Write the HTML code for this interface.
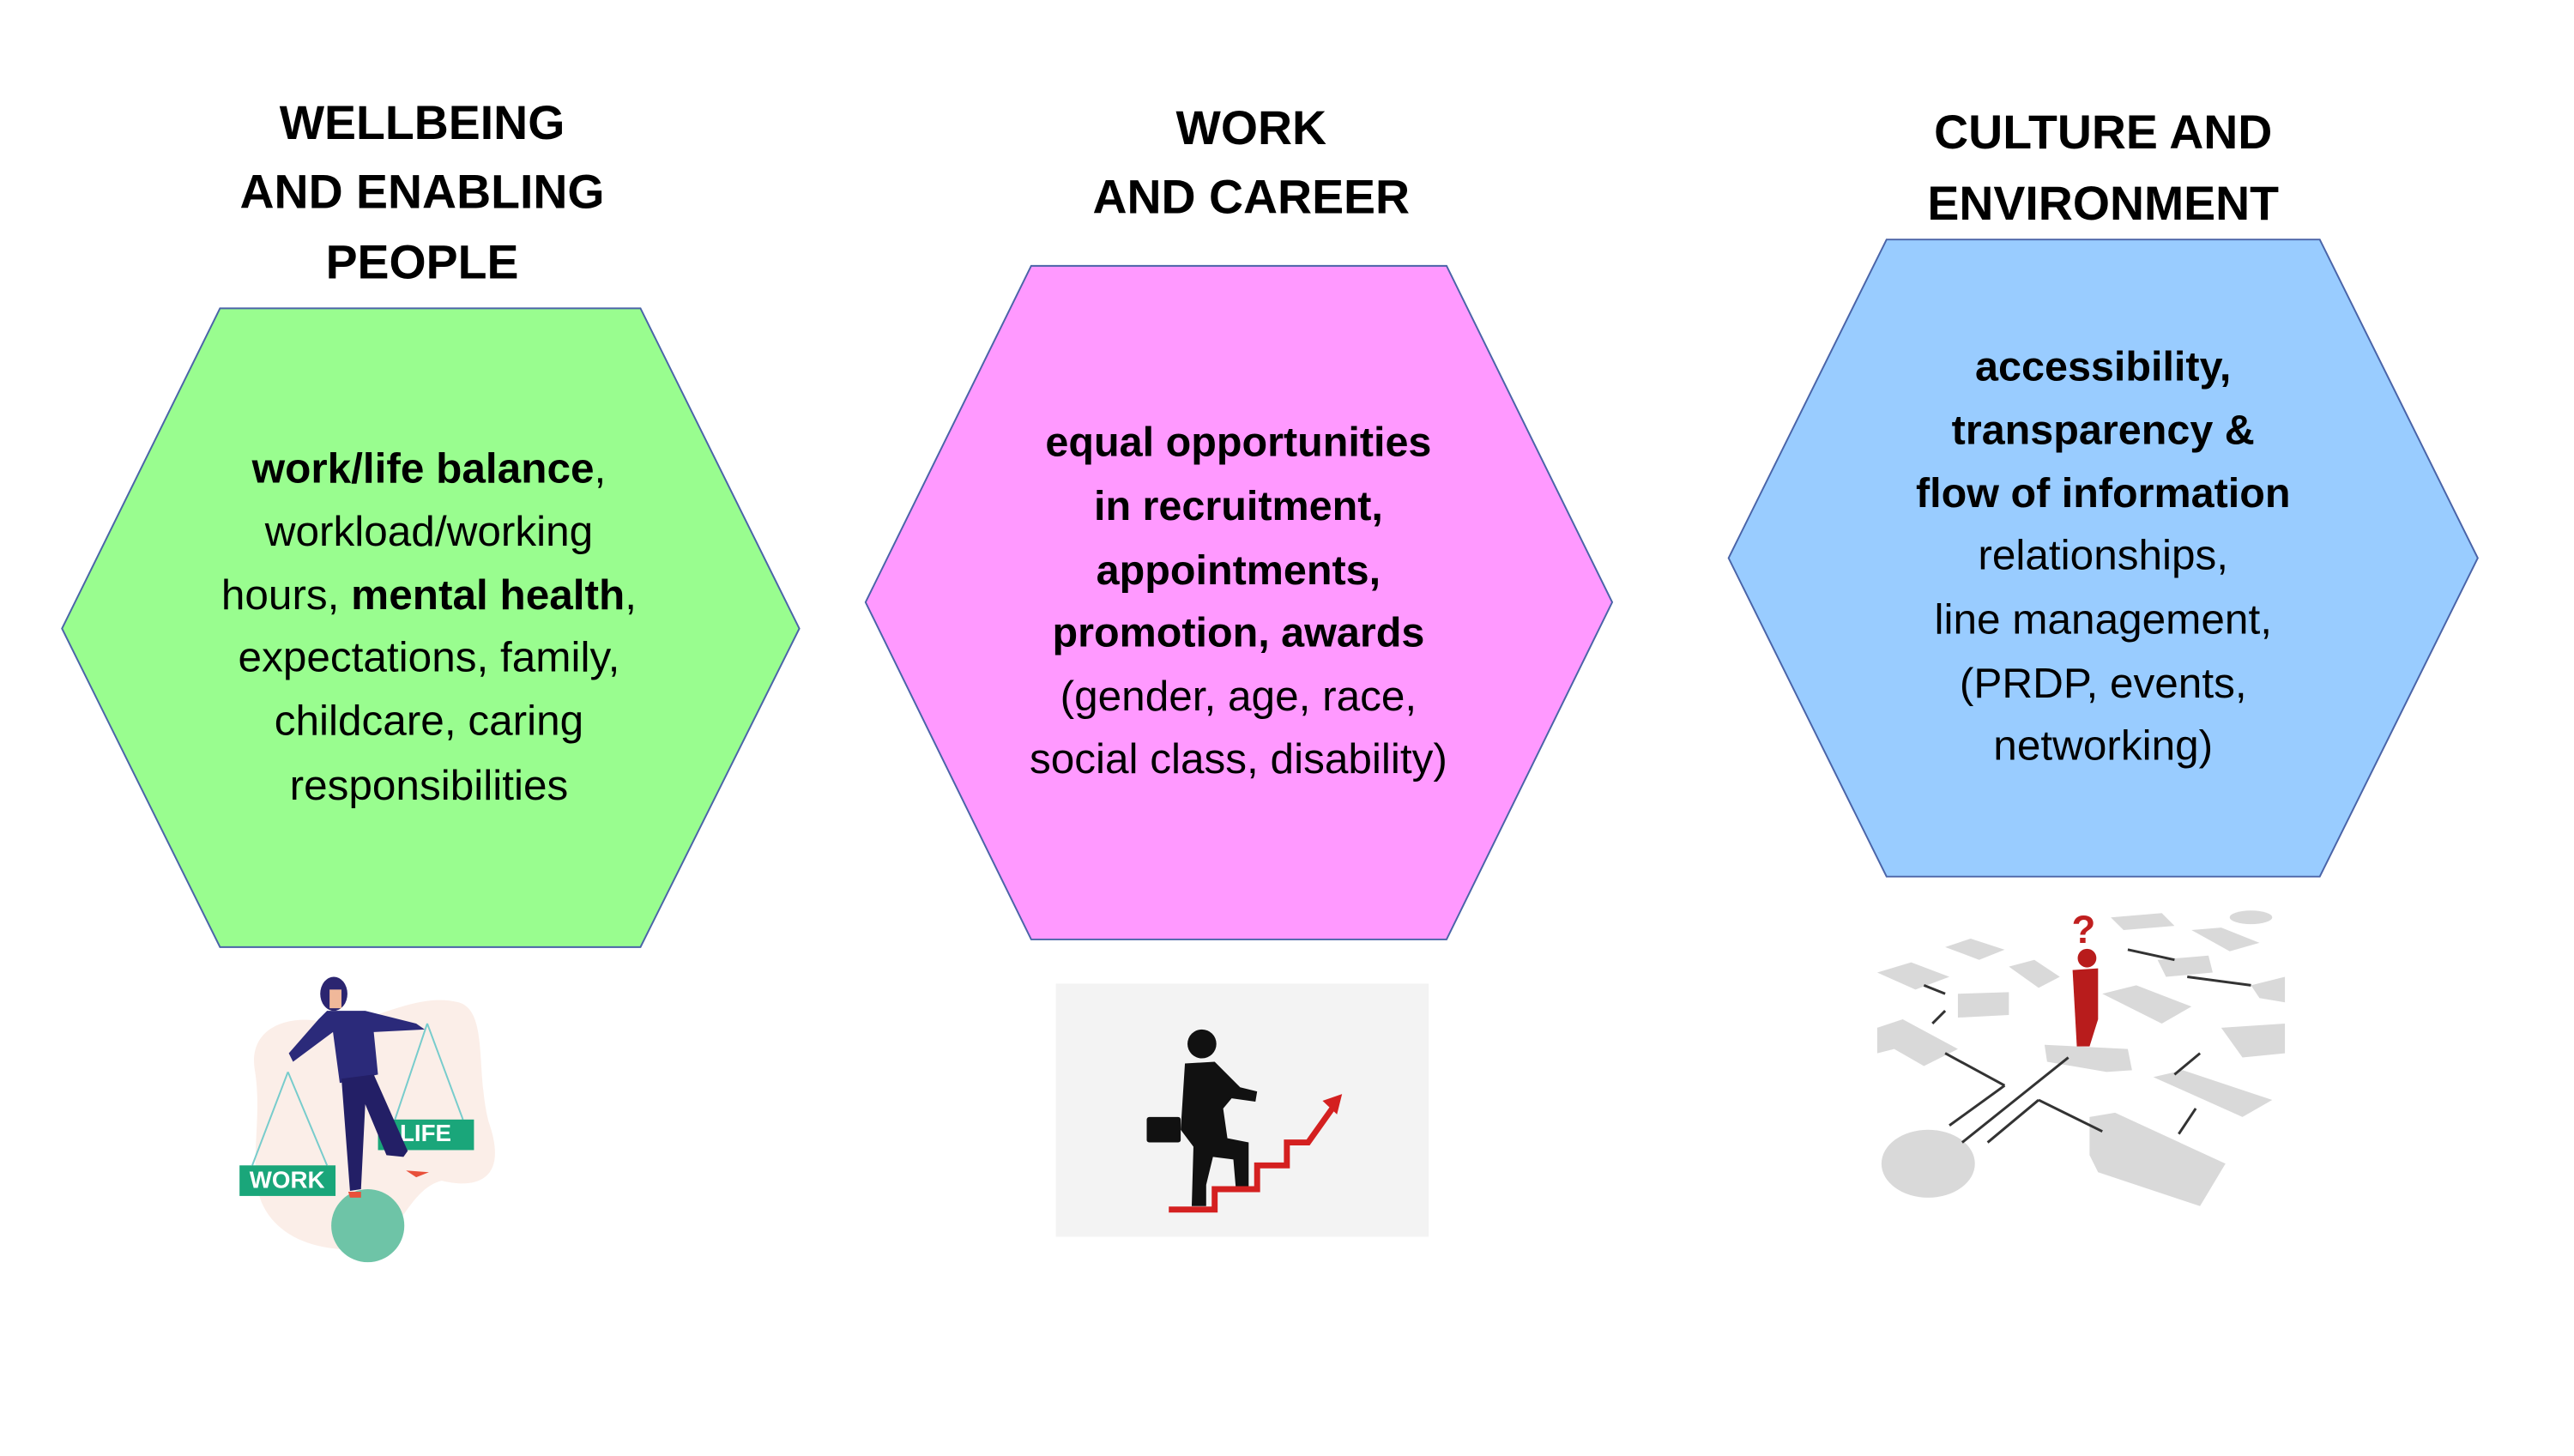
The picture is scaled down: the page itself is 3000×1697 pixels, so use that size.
<!DOCTYPE html>
<html><head><meta charset="utf-8"><style>
html,body{margin:0;padding:0;background:#fff;width:3000px;height:1697px;overflow:hidden}
svg{display:block}
text{font-family:"Liberation Sans",sans-serif;text-anchor:middle;dominant-baseline:middle;fill:#000}
.t{font-weight:bold;font-size:56px}
.b{font-size:50px}
.bb{font-size:49px;font-weight:bold}
</style></head><body>
<svg width="3000" height="1697" viewBox="0 0 3000 1697" xmlns="http://www.w3.org/2000/svg">
<g transform="scale(0.99)">
<!-- hexagons -->
<polygon points="73,740 259,363 754,363 941,740 754,1115 259,1115" fill="#99fd8f" stroke="#4a64a8" stroke-width="2"/>
<polygon points="1019,709 1214,313 1703,313 1898,709 1703,1106 1214,1106" fill="#ff99ff" stroke="#4a64a8" stroke-width="2"/>
<polygon points="2035,657 2221,282 2731,282 2917,657 2731,1032 2221,1032" fill="#99ccff" stroke="#4a64a8" stroke-width="2"/>

<!-- titles -->
<text class="t" x="497" y="149">WELLBEING</text>
<text class="t" x="497" y="230">AND ENABLING</text>
<text class="t" x="497" y="313">PEOPLE</text>
<text class="t" x="1473" y="155">WORK</text>
<text class="t" x="1473" y="236">AND CAREER</text>
<text class="t" x="2476" y="160">CULTURE AND</text>
<text class="t" x="2476" y="244">ENVIRONMENT</text>

<!-- green text -->
<text class="b" x="505" y="555"><tspan font-weight="bold">work/life balance</tspan>,</text>
<text class="b" x="505" y="629">workload/working</text>
<text class="b" x="505" y="704">hours, <tspan font-weight="bold">mental health</tspan>,</text>
<text class="b" x="505" y="777">expectations, family,</text>
<text class="b" x="505" y="852">childcare, caring</text>
<text class="b" x="505" y="928">responsibilities</text>

<!-- pink text -->
<text class="bb" x="1458" y="524">equal opportunities</text>
<text class="bb" x="1458" y="599">in recruitment,</text>
<text class="bb" x="1458" y="675">appointments,</text>
<text class="bb" x="1458" y="748">promotion, awards</text>
<text class="b" x="1458" y="823">(gender, age, race,</text>
<text class="b" x="1458" y="897">social class, disability)</text>

<!-- blue text -->
<text class="bb" x="2476" y="435">accessibility,</text>
<text class="bb" x="2476" y="510">transparency &amp;</text>
<text class="bb" x="2476" y="584">flow of information</text>
<text class="b" x="2476" y="657">relationships,</text>
<text class="b" x="2476" y="733">line management,</text>
<text class="b" x="2476" y="808">(PRDP, events,</text>
<text class="b" x="2476" y="881">networking)</text>

<!-- left illustration -->
<path d="M300,1260 C290,1200 360,1190 400,1210 C460,1190 500,1170 540,1180 C575,1190 560,1260 575,1320 C600,1390 560,1400 520,1390 C480,1400 470,1460 430,1470 C380,1475 330,1460 310,1420 C290,1380 310,1320 300,1260Z" fill="#fbeee8"/>
<circle cx="433" cy="1443" r="43" fill="#6ec4a7"/>
<line x1="339" y1="1262" x2="297" y2="1372" stroke="#7cc" stroke-width="2"/>
<line x1="339" y1="1262" x2="385" y2="1372" stroke="#7cc" stroke-width="2"/>
<line x1="503" y1="1205" x2="465" y2="1318" stroke="#7cc" stroke-width="2"/>
<line x1="503" y1="1205" x2="545" y2="1318" stroke="#7cc" stroke-width="2"/>
<rect x="282" y="1372" width="113" height="36" fill="#1aa67a"/>
<text x="338" y="1391" font-size="28" font-weight="bold" style="fill:#fff">WORK</text>
<rect x="445" y="1318" width="113" height="36" fill="#1aa67a"/>
<text x="501" y="1336" font-size="28" font-weight="bold" style="fill:#fff">LIFE</text>
<ellipse cx="393" cy="1170" rx="16" ry="20" fill="#2b2570"/>
<rect x="388" y="1165" width="14" height="22" fill="#f0b89a"/>
<path d="M385,1190 L430,1190 L490,1205 L500,1212 L440,1215 L445,1265 L400,1275 L392,1215 L345,1250 L340,1240 L375,1200Z" fill="#2b2a7a"/>
<path d="M402,1270 L440,1265 L480,1355 L475,1362 L455,1360 L430,1300 L425,1400 L412,1402 Z" fill="#231f66"/>
<path d="M410,1403 L425,1403 L425,1410 L412,1410Z" fill="#e8503a"/>
<path d="M478,1378 L505,1380 L490,1386Z" fill="#e8503a"/>

<!-- middle illustration -->
<rect x="1243" y="1158" width="439" height="298" fill="#f3f3f3"/>
<circle cx="1415" cy="1229" r="17" fill="#111"/>
<path d="M1395,1252 L1430,1250 L1460,1280 L1480,1285 L1478,1297 L1450,1293 L1440,1305 L1445,1340 L1470,1345 L1470,1400 L1455,1400 L1452,1365 L1428,1362 L1420,1395 L1420,1420 L1403,1420 L1405,1350 L1390,1330 Z" fill="#111"/>
<rect x="1350" y="1315" width="40" height="30" rx="3" fill="#111"/>
<polyline points="1376,1424 1430,1424 1430,1400 1480,1400 1480,1372 1515,1372 1515,1345 1540,1345 1572,1300" fill="none" stroke="#d42020" stroke-width="7"/>
<polygon points="1580,1288 1557,1296 1574,1312" fill="#d42020"/>

<!-- right illustration -->
<g fill="#d9d9d9">
<polygon points="2210,1145 2250,1133 2295,1150 2255,1165"/>
<polygon points="2290,1115 2320,1105 2360,1118 2330,1130"/>
<polygon points="2305,1170 2365,1168 2365,1195 2305,1198"/>
<polygon points="2210,1210 2240,1200 2305,1235 2265,1255 2230,1235 2210,1240"/>
<polygon points="2365,1138 2395,1130 2425,1150 2400,1163"/>
<polygon points="2485,1080 2545,1075 2560,1090 2500,1095"/>
<ellipse cx="2650" cy="1080" rx="25" ry="8"/>
<polygon points="2580,1095 2615,1092 2660,1110 2625,1120"/>
<polygon points="2540,1130 2600,1125 2605,1145 2550,1150"/>
<polygon points="2475,1170 2515,1160 2580,1185 2545,1205"/>
<polygon points="2650,1160 2690,1150 2690,1180 2660,1175"/>
<polygon points="2615,1210 2690,1205 2690,1240 2640,1245"/>
<polygon points="2535,1268 2570,1260 2675,1295 2640,1315"/>
<polygon points="2460,1315 2490,1310 2620,1370 2590,1420 2470,1380 2460,1360"/>
<polygon points="2407,1230 2505,1235 2510,1260 2480,1262 2410,1250"/>
<ellipse cx="2270" cy="1370" rx="55" ry="40"/>
</g>
<g stroke="#333" stroke-width="3" fill="none">
<line x1="2290" y1="1240" x2="2360" y2="1278"/>
<polyline points="2360,1278 2295,1325"/>
<line x1="2435" y1="1245" x2="2310" y2="1345"/>
<polyline points="2400,1295 2340,1345"/>
<line x1="2400" y1="1295" x2="2475" y2="1332"/>
<line x1="2590" y1="1240" x2="2560" y2="1265"/>
<line x1="2585" y1="1305" x2="2565" y2="1335"/>
<line x1="2505" y1="1118" x2="2560" y2="1130"/>
<line x1="2575" y1="1150" x2="2650" y2="1160"/>
<line x1="2290" y1="1190" x2="2275" y2="1205"/>
<line x1="2265" y1="1160" x2="2290" y2="1170"/>
</g>
<path d="M2440,1142 L2470,1140 L2470,1200 L2460,1232 L2445,1232 Z" fill="#b81c1c"/>
<circle cx="2457" cy="1128" r="11" fill="#b81c1c"/>
<text x="2453" y="1098" font-size="46" font-weight="bold" style="fill:#c01f1f">?</text>
</g>
</svg>
</body></html>
